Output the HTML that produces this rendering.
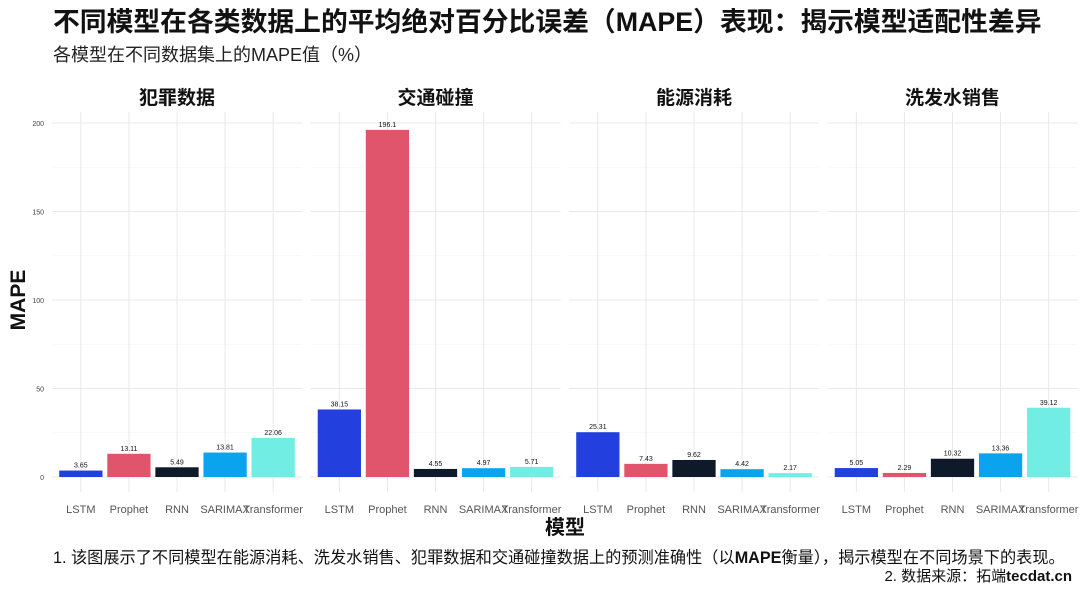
<!DOCTYPE html>
<html><head><meta charset="utf-8"><style>
body{margin:0;background:#fff;width:1080px;height:585px;overflow:hidden;font-family:"Liberation Sans","Noto Sans CJK SC",sans-serif}
</style></head><body>
<svg id="c" width="1080" height="585" xmlns="http://www.w3.org/2000/svg">
<text x="53" y="31" font-size="26.8" font-weight="bold" fill="#111">不同模型在各类数据上的平均绝对百分比误差（MAPE）表现：揭示模型适配性差异</text>
<text x="53" y="61" font-size="18" fill="#222">各模型在不同数据集上的MAPE值（%）</text>
<text transform="translate(25,300) rotate(-90)" text-anchor="middle" font-size="21" font-weight="bold" fill="#111">MAPE</text>
<text x="565" y="534" text-anchor="middle" font-size="20" font-weight="bold" fill="#111">模型</text>
<text x="53" y="563" font-size="16.2" fill="#111">1. 该图展示了不同模型在能源消耗、洗发水销售、犯罪数据和交通碰撞数据上的预测准确性（以<tspan font-weight="bold">MAPE</tspan>衡量），揭示模型在不同场景下的表现。</text>
<text x="1072" y="581" text-anchor="end" font-size="15" fill="#111">2. 数据来源：拓端<tspan font-weight="bold">tecdat.cn</tspan></text>
<g id="plot"></g>
</svg>
<script>
const panels=["犯罪数据","交通碰撞","能源消耗","洗发水销售"];
const models=["LSTM","Prophet","RNN","SARIMAX","Transformer"];
const crimeVals=[3.65,13.11,5.49,13.81,22.06];
const trafficVals=[38.15,196.1,4.55,4.97,5.71];
const energyVals=[25.31,7.43,9.62,4.42,2.17];
const shampooVals=[5.05,2.29,10.32,13.36,39.12];
const yTicks=[0,50,100,150,200];
const colors=["#2340de","#e0546c","#0e1a2a","#0aa4ee","#72ede3"];
const series=[crimeVals,trafficVals,energyVals,shampooVals];
(function(){
const NS="http://www.w3.org/2000/svg";
const g=document.getElementById('plot');
const y0=477,y200=123;
const y=v=>y0-(v/200)*(y0-y200);
const pw=250,pgap=8.5,px0=52,pTop=112,pBot=492;
function mk(t,a){const e=document.createElementNS(NS,t);for(const k in a)e.setAttribute(k,a[k]);g.appendChild(e);return e;}
yTicks.forEach(t=>{
  const e=mk('text',{x:44,y:y(t)+3,'text-anchor':'end','font-size':7,fill:'#444'});
  e.textContent=t;
  
  
});
panels.forEach((p,pi)=>{
  const x0=px0+pi*(pw+pgap);
  const step=pw/5.2;
  const cx=i=>x0+(i+0.6)*step;
  for(let k=0;k<9;k++){const v=k*25;mk('line',{x1:x0,x2:x0+pw,y1:y(v),y2:y(v),stroke:k%2?'#f3f3f3':'#e8e8e8','stroke-width':k%2?0.6:1});}
  models.forEach((m,i)=>mk('line',{x1:cx(i),x2:cx(i),y1:pTop,y2:pBot,stroke:'#e8e8e8','stroke-width':1}));
  const st=mk('text',{x:x0+pw/2,y:104,'text-anchor':'middle','font-size':19,'font-weight':'bold',fill:'#111'});
  st.textContent=p;
  
  
  const vals=series[pi];
  models.forEach((m,i)=>{
    const v=vals[i],bw=step*0.9;
    const r=mk('rect',{x:cx(i)-bw/2,y:y(v),width:bw,height:y0-y(v),fill:colors[i]});
    
    
    const lt=mk('text',{x:cx(i),y:y(v)-3,'text-anchor':'middle','font-size':7,fill:'#111'});
    lt.textContent=v;
    
    
    const xl=mk('text',{x:cx(i),y:513,'text-anchor':'middle','font-size':11,fill:'#555'});
    xl.textContent=m;
    
    
  });
});
})();
</script>
</body></html>
